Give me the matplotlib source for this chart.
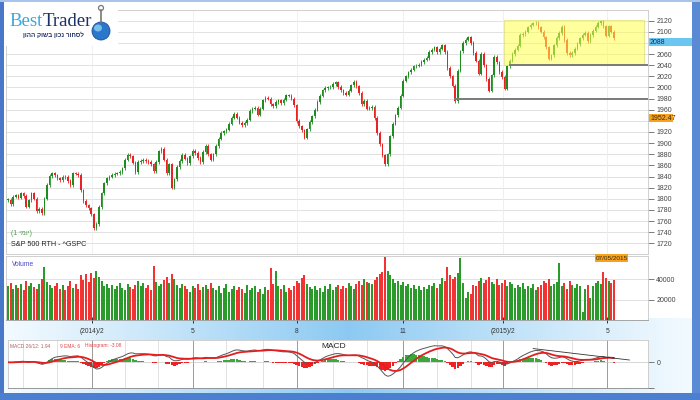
"""S&P 500 daily candlestick chart with volume and MACD, BestTrader style."""

import matplotlib
matplotlib.use("Agg")
import matplotlib.patches as mpatches
import matplotlib.pyplot as plt
import numpy as np
import pandas as pd

# Daily closes (Nov 2013 - 07/05/2015).
CLOSES = [
    1798, 1790, 1804, 1806, 1802, 1810, 1805, 1786, 1797, 1810,
    1800, 1778, 1782, 1774, 1800, 1825, 1841, 1846, 1842, 1837,
    1834, 1840, 1839, 1832, 1825, 1846, 1845, 1843, 1815, 1796,
    1788, 1783, 1772, 1747, 1755, 1785, 1810, 1828, 1837, 1840,
    1843, 1845, 1846, 1848, 1855, 1870, 1879, 1876, 1865, 1848,
    1866, 1868, 1870, 1868, 1866, 1862, 1850, 1866, 1885, 1890,
    1870, 1846, 1862, 1820, 1835, 1857, 1868, 1879, 1872, 1864,
    1876, 1886, 1882, 1873, 1866, 1884, 1895, 1880, 1870, 1880,
    1895, 1908, 1918, 1921, 1924, 1935, 1946, 1953, 1946, 1937,
    1932, 1936, 1942, 1958, 1962, 1963, 1951, 1962, 1977, 1981,
    1980, 1970, 1966, 1974, 1977, 1972, 1978, 1986, 1985, 1980,
    1968, 1940, 1930, 1923, 1910, 1925, 1938, 1948, 1960, 1974,
    1985, 1995, 1999, 2000, 2001, 2006, 2009, 2001, 1995, 1990,
    1987, 1994, 2004, 2010, 2002, 1990, 1970, 1976, 1962, 1963,
    1965, 1945, 1918, 1898, 1878, 1862, 1880, 1912, 1935, 1950,
    1964, 1985, 2012, 2020, 2027, 2032, 2038, 2039, 2041, 2046,
    2050, 2053, 2064, 2068, 2072, 2064, 2070, 2076, 2064, 2035,
    2020, 2003, 1975, 2030, 2065, 2080, 2086, 2090, 2080, 2062,
    2048, 2025, 2060, 2040, 2015, 1994, 2022, 2055, 2045, 2028,
    2019, 1998, 2038, 2048, 2060, 2068, 2075, 2094, 2096, 2100,
    2108, 2113, 2115, 2116, 2108, 2100, 2090, 2072, 2052, 2058,
    2076, 2089, 2098, 2109, 2085, 2062, 2058, 2062, 2070, 2078,
    2088, 2095, 2098, 2083, 2094, 2102, 2109, 2116, 2119, 2110,
    2093, 2110, 2100, 2088,
]

# Volume per candle, in thousands.
VOLUME_K = [
    33, 36, 30, 34, 31, 35, 29, 38, 33, 36,
    32, 30, 35, 40, 52, 37, 34, 31, 33, 36,
    30, 34, 29, 33, 38, 31, 35, 30, 44, 39,
    45, 37, 46, 41, 48, 42, 38, 33, 35, 31,
    34, 30, 33, 36, 31, 29, 35, 32, 30, 34,
    38, 33, 36, 31, 34, 29, 53, 37, 33, 35,
    39, 42, 36, 45, 40, 34, 31, 35, 33, 30,
    28, 33, 31, 35, 29, 32, 34, 30, 36, 31,
    29, 33, 27, 31, 35, 28, 30, 33, 29, 32,
    30, 27, 34, 29, 31, 33, 28, 30, 26, 32,
    29, 51, 35, 48, 33, 30, 34, 28, 31, 29,
    33, 38, 36, 41, 44, 35, 32, 30, 33, 29,
    31, 28, 33, 30, 35, 29, 32, 34, 30, 33,
    31, 36, 33, 30, 35, 38, 34, 40, 37, 36,
    35, 39, 42, 45, 47, 62, 48, 44, 40, 36,
    38, 34, 37, 33, 35, 31, 34, 30, 33, 29,
    32, 30, 34, 33, 36, 31, 35, 41, 38, 52,
    44, 40, 42, 46, 61, 36, 22, 28, 26, 34,
    33, 38, 41, 36, 39, 42, 37, 35, 40, 34,
    36, 39, 33, 37, 35, 31, 34, 32, 36, 30,
    33, 31, 35, 29, 32, 34, 38, 36, 40, 33,
    35, 37, 56, 33, 36, 30, 38, 34, 31, 35,
    33, 8, 30, 34, 22, 33, 36, 38, 35, 47,
    41, 38, 36, 39,
]

# Month boundaries (candle index) and the labelled quarter ones.
MONTH_POS = [5.8, 18.8, 32.3, 45, 57.7, 71, 84, 98, 111, 125, 138, 152,
             165, 178, 190.5, 203.5, 217, 230.5]
MAJOR_POS = [32.3, 71, 111, 152, 190.5, 230.5]
MAJOR_LABELS = ["(2014)/2", "5", "8", "11", "(2015)/2", "5"]

PRICE_TICKS = list(range(1720, 2121, 20))
# labels hidden behind the value boxes on the axis
HIDDEN_PRICE_LABELS = [2080, 1940]
VOLUME_TICKS = [20000, 40000]

# Consolidation box and the two support lines drawn by the analyst.
BOX_START, BOX_END = 190.8, 244.6
BOX_LOW, BOX_HIGH = 2040, 2122
SUPPORT_START = [193, 172]
SUPPORT_PRICE = [2040, 1980]
# Hand drawn trend line on the MACD panel.
MACD_TREND_IDX = [202, 239]
MACD_TREND_VAL = [24, 4]

LAST_PRICE = "2088"
CURSOR_PRICE = "1952.47"
CURSOR_DATE = "07/05/2015"
MACD_LEGEND = ["MACD 26/12: 1.94", "9 EMA: 6", "Histogram: -3.08"]

SUBTITLE_HE = "לסחור נכון בשוק ההון"
PERIOD_HE = "יומי"

UP = "#1e8c1e"
DOWN = "#e82323"
GRID = "#dcdcdc"
FONT = ["Liberation Sans", "DejaVu Sans"]

W, H = 700, 400
X0_PX, STEP_PX = 8, 2.6


def fx(px):
    return px / W


def fy(py):
    return 1 - py / H


def px_axes(fig, left, top, right, bottom, **kw):
    return fig.add_axes([fx(left), fy(bottom), (right - left) / W, (bottom - top) / H], **kw)


def idx_lim(left_px, right_px):
    return ((left_px - X0_PX) / STEP_PX, (right_px - X0_PX) / STEP_PX)


def fig_rect(fig, l, t, r, b, color, z=1, **kw):
    fig.add_artist(mpatches.Rectangle((fx(l), fy(b)), (r - l) / W, (b - t) / H,
                                      transform=fig.transFigure, facecolor=color,
                                      edgecolor="none", zorder=z, **kw))


def style_right_axis(axis):
    axis.yaxis.tick_right()
    axis.tick_params(axis="y", length=4, width=0.6, color="#666666", labelsize=5,
                     labelcolor="#444444", pad=2)
    for s in axis.spines.values():
        s.set_color("#c8c8c8")
        s.set_linewidth(0.6)


def main():
    plt.rcParams["font.family"] = FONT
    fig = plt.figure(figsize=(7, 4), dpi=100, facecolor="white")

    closes = np.array(CLOSES, dtype=float)
    opens = np.concatenate([[closes[0]], closes[:-1]])
    idx = np.arange(len(closes))
    up = closes >= opens
    colors = np.where(up, UP, DOWN)

    # light blue gradient behind the date strip and MACD panel
    bg = px_axes(fig, 4, 318, 692, 393, zorder=-5)
    t = np.linspace(0, 1, 300)
    w = np.clip(1 - np.abs(t - 0.5) * 2, 0, 1) ** 1.1
    edge = np.array([0.95, 0.98, 1.0])
    centre = np.array([0.55, 0.79, 0.95])
    grad = edge[None, :] + (centre - edge)[None, :] * w[:, None]
    bg.imshow(grad[None, :, :], aspect="auto", extent=(0, 1, 0, 1))
    bg.axis("off")

    # ---- price panel
    ax = px_axes(fig, 6, 10, 648, 254)
    ax.set_xlim(*idx_lim(6, 648))
    ax.set_ylim(1700.8, 2139.2)
    for y in PRICE_TICKS:
        ax.axhline(y, color=GRID, lw=0.6, zorder=0)
    for x in MAJOR_POS:
        ax.axvline(x, color="#ececec", lw=0.6, zorder=0)
    lo = np.minimum(opens, closes)
    hi = np.maximum(opens, closes)
    ax.vlines(idx, lo - 3, hi + 3, colors=colors, lw=0.6, zorder=2)
    ax.bar(idx, np.maximum(hi - lo, 0.8), bottom=lo, width=0.62, color=colors,
           linewidth=0, zorder=3)
    ax.add_patch(mpatches.Rectangle((BOX_START, BOX_LOW), BOX_END - BOX_START,
                                    BOX_HIGH - BOX_LOW, facecolor="#ffff4d", alpha=0.55,
                                    edgecolor="#d8d860", lw=0.8, zorder=4))
    for start, price in zip(SUPPORT_START, SUPPORT_PRICE):
        ax.plot([start, 246], [price, price], color="#7a7a7a", lw=1.4, zorder=5)
    style_right_axis(ax)
    ax.set_yticks(PRICE_TICKS)
    ax.set_yticklabels(["" if v in HIDDEN_PRICE_LABELS else str(v) for v in PRICE_TICKS])
    ax.set_xticks([])
    ax.text(0.008, 0.085, "(1 " + PERIOD_HE[::-1] + ")", transform=ax.transAxes,
            fontsize=5, color="#4a9a4a", va="center")
    ax.text(0.008, 0.037, "S&P 500 RTH - ^GSPC", transform=ax.transAxes,
            fontsize=5.2, color="#222222", va="center")

    # ---- volume panel
    av = px_axes(fig, 6, 256, 648, 320)
    av.set_xlim(*idx_lim(6, 648))
    av.set_ylim(0, 62900)
    for y in VOLUME_TICKS:
        av.axhline(y, color=GRID, lw=0.6, zorder=0)
    vol_colors = np.where(up, "#2a9a2a", "#f23333")
    av.bar(idx, np.array(VOLUME_K) * 1000, width=0.8, color=vol_colors, linewidth=0,
           zorder=2)
    style_right_axis(av)
    av.set_yticks(VOLUME_TICKS)
    av.set_yticklabels([str(v) for v in VOLUME_TICKS])
    av.set_xticks(MAJOR_POS)
    av.set_xticklabels(MAJOR_LABELS)
    av.tick_params(axis="x", direction="inout", length=5, width=0.7, color="#333333",
                   labelsize=4.8, labelcolor="#333333", pad=3)
    av.spines["bottom"].set_color("#999999")
    av.text(0.01, 0.86, "Volume", transform=av.transAxes, fontsize=4.8,
            color="#4848c8", va="center")

    # ---- MACD panel
    am = px_axes(fig, 8, 340, 648, 388)
    am.set_facecolor("white")
    am.set_xlim(*idx_lim(8, 648))
    series = pd.Series(closes)
    macd = series.ewm(span=12, adjust=False).mean() - series.ewm(span=26, adjust=False).mean()
    signal = macd.ewm(span=9, adjust=False).mean()
    hist = (macd - signal).to_numpy()
    am.set_ylim(-45, 39)
    for x in MONTH_POS:
        am.axvline(x, color="#8a8a8a" if x in MAJOR_POS else "#dddddd", lw=0.6, zorder=0)
    am.axhline(0, color="#c8c8c8", lw=0.5, zorder=0)
    am.bar(idx, hist, width=0.9, color=np.where(hist >= 0, "#3aa83a", "#ee2222"),
           linewidth=0, zorder=2)
    am.plot(idx, macd, color="#555555", lw=0.7, zorder=3)
    am.plot(idx, signal, color="#e41e1e", lw=1.3, zorder=4)
    am.plot(MACD_TREND_IDX, MACD_TREND_VAL, color="#333333", lw=0.6, zorder=5)
    style_right_axis(am)
    am.set_yticks([0, -45])
    am.set_yticklabels(["0", ""])
    am.set_xticks([])
    am.spines["bottom"].set_color("#888888")
    am.text(0.49, 0.86, "MACD", transform=am.transAxes, fontsize=6, color="#222222",
            va="center")
    for x_px, label, col in zip([10, 60, 85], MACD_LEGEND, ["#b06060", "#e04848", "#e04848"]):
        fig.text(fx(x_px), fy(346), label, fontsize=3.5, color=col, va="center")

    # ---- value boxes on the right axis
    fig_rect(fig, 649, 38, 697, 46, "#6cc6f2", z=6)
    fig.text(fx(650), fy(42), LAST_PRICE, fontsize=5, color="#1a2a5a", va="center", zorder=7)
    fig_rect(fig, 649, 114, 673, 122, "#f6a21e", z=6)
    fig.text(fx(650), fy(118), CURSOR_PRICE, fontsize=5, color="#3a2a10", va="center", zorder=7)
    fig_rect(fig, 595, 254, 628, 262, "#f6a21e", z=6)
    fig.text(fx(611.5), fy(258), CURSOR_DATE, fontsize=4.6, color="#3a2a10", va="center",
             ha="center", zorder=7)

    # ---- window frame
    fig_rect(fig, 0, 0, 4, 400, "#4a78c8", z=8)
    fig_rect(fig, 692, 0, 700, 400, "#5b8ad4", z=8)
    fig_rect(fig, 0, 393, 700, 400, "#4c7fcf", z=8)
    fig_rect(fig, 0, 0, 700, 2, "#a9c4ea", z=8)

    # ---- logo
    fig_rect(fig, 4, 3, 118, 46, "white", z=5)
    fig.text(fx(43), fy(26), "Best", fontsize=13.5, family="Liberation Serif",
             color="#3aa7e0", ha="right", va="baseline", zorder=6)
    fig.text(fx(43), fy(26), "Trader", fontsize=13.5, family="Liberation Serif",
             color="#1c2f66", ha="left", va="baseline", zorder=6)
    fig.text(fx(53), fy(35), SUBTITLE_HE[::-1], fontsize=4.6, color="#1c2f66",
             ha="center", va="center", fontweight="bold", zorder=6)
    globe = mpatches.Ellipse((fx(101), fy(31)), 18 / W, 18 / H, transform=fig.transFigure,
                             facecolor="#2a78cc", edgecolor="#1a4f9a", lw=0.6, zorder=6)
    fig.add_artist(globe)
    shine = mpatches.Ellipse((fx(98), fy(28)), 8 / W, 7 / H, transform=fig.transFigure,
                             facecolor="#8fd0f5", edgecolor="none", alpha=0.8, zorder=7)
    fig.add_artist(shine)
    fig.add_artist(plt.Line2D([fx(101), fx(101)], [fy(22), fy(10)], transform=fig.transFigure,
                              color="#777777", lw=1.2, zorder=6))
    fig.add_artist(mpatches.Ellipse((fx(101), fy(8)), 5 / W, 5 / H, transform=fig.transFigure,
                                    facecolor="none", edgecolor="#777777", lw=0.9, zorder=6))

    fig.savefig("out.png", dpi=100, facecolor="white")
    plt.close(fig)


if __name__ == "__main__":
    main()
